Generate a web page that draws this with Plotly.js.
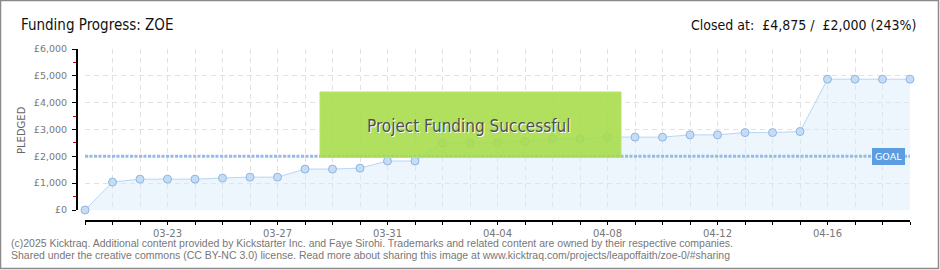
<!DOCTYPE html>
<html>
<head>
<meta charset="utf-8">
<script src="https://cdn.plot.ly/plotly-3.0.1.min.js"></script>
<style>html,body{margin:0;padding:0;background:#fff;}#chart{width:940px;height:270px;}</style>
</head>
<body>
<div id="chart"></div>
<script>
// ---- data ----
const dates = ['2025-03-20','2025-03-21','2025-03-22','2025-03-23','2025-03-24','2025-03-25','2025-03-26','2025-03-27','2025-03-28','2025-03-29','2025-03-30','2025-03-31','2025-04-01','2025-04-02','2025-04-03','2025-04-04','2025-04-05','2025-04-06','2025-04-07','2025-04-08','2025-04-09','2025-04-10','2025-04-11','2025-04-12','2025-04-13','2025-04-14','2025-04-15','2025-04-16','2025-04-17','2025-04-18','2025-04-19'];
const pledged = [0,1040,1150,1150,1150,1190,1225,1225,1525,1525,1560,1825,1825,2500,2500,2510,2550,2650,2650,2720,2715,2715,2800,2800,2885,2885,2925,4875,4875,4875,4875];
const goal = 2000;
const titleText = 'Funding Progress: ZOE';
const closedText = 'Closed at:  £4,875 /  £2,000 (243%)';
const footer1 = '(c)2025 Kicktraq. Additional content provided by Kickstarter Inc. and Faye Sirohi. Trademarks and related content are owned by their respective companies.';
const footer2 = 'Shared under the creative commons (CC BY-NC 3.0) license. Read more about sharing this image at www.kicktraq.com/projects/leapoffaith/zoe-0/#sharing';
const bannerText = 'Project Funding Successful';

// ---- geometry helpers (pixel -> paper) ----
const L = 76, R = 910, T = 49, B = 220;
const xp = px => (px - L) / (R - L);
const yp = py => (B - py) / (B - T);

const narrow = '"Liberation Sans Narrow", "DejaVu Sans Condensed", "Roboto", sans-serif';
const small = '"DejaVu Sans", "Liberation Sans", sans-serif';

const trace = {
  x: dates, y: pledged, type: 'scatter', mode: 'lines+markers', cliponaxis: false,
  fill: 'tozeroy', fillcolor: 'rgba(214,232,251,0.45)',
  line: {color: '#b9d6f4', width: 1},
  marker: {size: 8, color: '#c4ddf7', line: {color: '#93b5de', width: 1}},
  hoverinfo: 'skip'
};

const layout = {
  width: 940, height: 270,
  margin: {l: L, r: 940 - R, t: T, b: 270 - B, pad: 0},
  paper_bgcolor: '#ffffff', plot_bgcolor: 'rgba(0,0,0,0)',
  showlegend: false,
  xaxis: {
    type: 'date', domain: [xp(85), 1], anchor: 'free', position: 0,
    range: [dates[0], dates[dates.length - 1]],
    tick0: '2025-03-23', dtick: 4 * 86400000, tickformat: '%m-%d',
    showline: true, linecolor: '#000', linewidth: 1.5,
    ticks: 'outside', ticklen: 3, tickcolor: '#000', tickwidth: 1,
    showgrid: true, gridcolor: '#e2e2e2', griddash: '5px,4px', gridwidth: 1,
    zeroline: false,
    tickfont: {family: small, size: 10, color: '#777'},
    minor: {tick0: dates[0], dtick: 86400000, ticks: 'outside', ticklen: 3, tickcolor: '#000',
            showgrid: true, gridcolor: '#e2e2e2', griddash: '5px,4px', gridwidth: 1}
  },
  yaxis: {
    domain: [yp(210), 1], anchor: 'free', position: 0,
    range: [0, 6000], dtick: 1000, tickprefix: '£', tickformat: ',d',
    showline: true, linecolor: '#000', linewidth: 1.5,
    ticks: 'outside', ticklen: 4, tickcolor: '#000',
    showgrid: true, gridcolor: '#e2e2e2', griddash: '5px,4px', gridwidth: 1,
    zeroline: false, ticklabelstandoff: 3,
    tickfont: {family: small, size: 9.5, color: '#777'},
    minor: {dtick: 500, ticks: 'outside', ticklen: 3, tickcolor: '#e00000', showgrid: false}
  },
  shapes: [
    {type: 'line', xref: 'x', yref: 'y', x0: dates[0], x1: dates[dates.length - 1], y0: goal, y1: goal,
     layer: 'above', line: {color: '#94bce9', width: 3, dash: '3px,1.5px'}},
    {type: 'rect', xref: 'paper', yref: 'paper', x0: xp(320), x1: xp(621), y0: yp(157.5), y1: yp(92),
     layer: 'above', fillcolor: 'rgba(166,220,72,0.88)', line: {color: '#b7e46f', width: 1}},
    {type: 'rect', xref: 'paper', yref: 'paper', x0: xp(0.5), x1: xp(938.5), y0: yp(268.5), y1: yp(0.5),
     layer: 'above', fillcolor: 'rgba(0,0,0,0)', line: {color: '#8a8a8a', width: 1.5}}
  ],
  annotations: [
    {text: titleText, xref: 'paper', yref: 'paper', x: xp(19), y: yp(25), xanchor: 'left', yanchor: 'middle',
     showarrow: false, font: {family: narrow, size: 15, color: '#111'}},
    {text: closedText, xref: 'paper', yref: 'paper', x: xp(918), y: yp(25), xanchor: 'right', yanchor: 'middle',
     showarrow: false, font: {family: narrow, size: 14, color: '#111'}},
    {text: bannerText, xref: 'paper', yref: 'paper', x: xp(469), y: yp(126), xanchor: 'center', yanchor: 'middle',
     showarrow: false, font: {family: narrow, size: 17, color: '#505050', shadow: '1px 1px 0px #ffffff'}},
    {text: 'GOAL', xref: 'paper', yref: 'y', x: xp(888), y: goal, xanchor: 'center', yanchor: 'middle',
     showarrow: false, bgcolor: '#5b9de0', bordercolor: '#5b9de0', borderpad: 2,
     font: {family: small, size: 9.5, color: '#ffffff'}},
    {text: 'PLEDGED', xref: 'paper', yref: 'paper', x: xp(21), y: yp(130), xanchor: 'center', yanchor: 'middle',
     textangle: -90, showarrow: false, font: {family: small, size: 10, color: '#666'}},
    {text: footer1, xref: 'paper', yref: 'paper', x: xp(9), y: yp(243.5), xanchor: 'left', yanchor: 'middle',
     showarrow: false, font: {family: '"Liberation Sans", sans-serif', size: 10.5, color: '#777'}},
    {text: footer2, xref: 'paper', yref: 'paper', x: xp(9), y: yp(254.5), xanchor: 'left', yanchor: 'middle',
     showarrow: false, font: {family: '"Liberation Sans", sans-serif', size: 10.5, color: '#777'}}
  ]
};

Plotly.newPlot('chart', [trace], layout, {staticPlot: true, displayModeBar: false});
</script>
</body>
</html>
